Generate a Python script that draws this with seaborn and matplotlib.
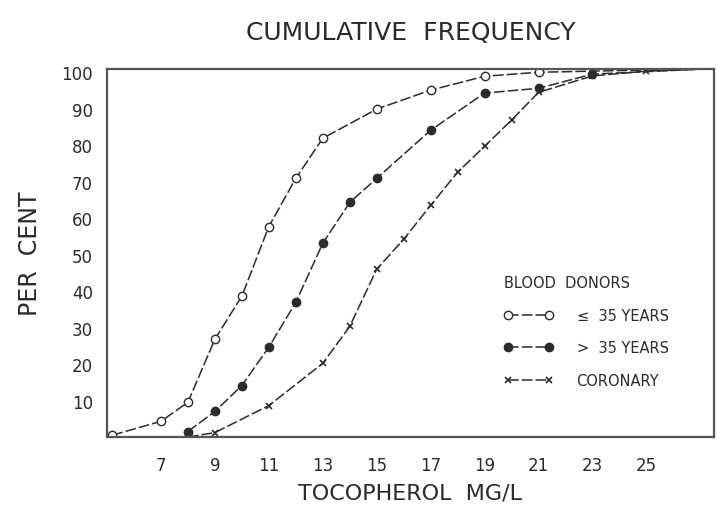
import matplotlib
matplotlib.use("Agg")
import matplotlib.pyplot as plt
import seaborn as sns

# Cumulative frequency of plasma tocopherol (mg/L)
young_x = [5.2, 7, 8, 9, 10, 11, 12, 13, 15, 17, 19, 21, 27.5]
young_y = [0.5, 4.3, 9.5, 26.8, 38.6, 57.7, 70.9, 81.9, 89.9, 95.1, 98.9, 100, 101]

older_x = [8, 9, 10, 11, 12, 13, 14, 15, 17, 19, 21, 23, 27.5]
older_y = [1.5, 7, 14.1, 24.6, 36.9, 53.1, 64.3, 70.9, 84.1, 94.3, 95.6, 99.5, 101]

coronary_x = [8, 9, 11, 13, 14, 15, 16, 17, 18, 19, 20, 21, 23, 25, 27.5]
coronary_y = [0, 1.2, 8.6, 20.2, 30.3, 46.0, 54.2, 63.5, 72.6, 79.7, 86.9, 94.5, 99.0, 100.3, 101]

series_labels = ["\u2264  35 YEARS", ">  35 YEARS", "CORONARY"]
legend_title = "BLOOD  DONORS"
x_ticks = [7, 9, 11, 13, 15, 17, 19, 21, 23, 25]
y_ticks = [10, 20, 30, 40, 50, 60, 70, 80, 90, 100]

sns.set_theme(style="white")
plt.rcParams["font.family"] = ["DejaVu Sans"]
ink = "#2b2b2b"

fig = plt.figure(figsize=(7.16, 5.06), dpi=100)
ax = fig.add_axes([0.1494, 0.1344, 0.8476, 0.7273])

dash = (0, (7, 2))
common = dict(color=ink, linewidth=1.1, markeredgecolor=ink, linestyle=dash)

sns.lineplot(x=young_x, y=young_y, ax=ax, marker="o", markersize=6,
             markerfacecolor="white", markeredgewidth=1.0,
             markevery=list(range(len(young_x) - 1)), label=series_labels[0],
             **common)
sns.lineplot(x=older_x, y=older_y, ax=ax, marker="o", markersize=6,
             markerfacecolor=ink, markeredgewidth=1.0,
             markevery=list(range(len(older_x) - 1)), label=series_labels[1],
             **common)
sns.lineplot(x=coronary_x, y=coronary_y, ax=ax, marker="x", markersize=5,
             markeredgewidth=1.2,
             markevery=list(range(1, len(coronary_x) - 1)), label=series_labels[2],
             **common)

ax.set_xlim(5, 27.5)
ax.set_ylim(0, 100.9)
ax.set_xticks(x_ticks)
ax.set_yticks(y_ticks)
ax.tick_params(axis="both", direction="in", length=6, width=1.2, colors=ink,
               labelsize=12, pad=10)
ax.tick_params(axis="x", pad=14)
for s in ax.spines.values():
    s.set_color("#555555")
    s.set_linewidth(1.6)
    s.set_visible(True)

ax.set_xlabel("TOCOPHEROL  MG/L", fontsize=16, color=ink, labelpad=6)
ax.set_ylabel("PER  CENT", fontsize=17, color=ink, labelpad=14)
fig.text(0.573, 0.935, "CUMULATIVE  FREQUENCY", fontsize=18, color=ink,
         ha="center", va="center")

leg = ax.legend(title=legend_title, loc="upper left", bbox_to_anchor=(0.632, 0.475),
                frameon=False, numpoints=2, handlelength=3.4, handletextpad=1.6,
                labelspacing=1.2, fontsize=10.5, title_fontsize=10.5,
                alignment="left")
for t in leg.get_texts():
    t.set_color(ink)
leg.get_title().set_color(ink)

fig.savefig("out.png", dpi=100)
